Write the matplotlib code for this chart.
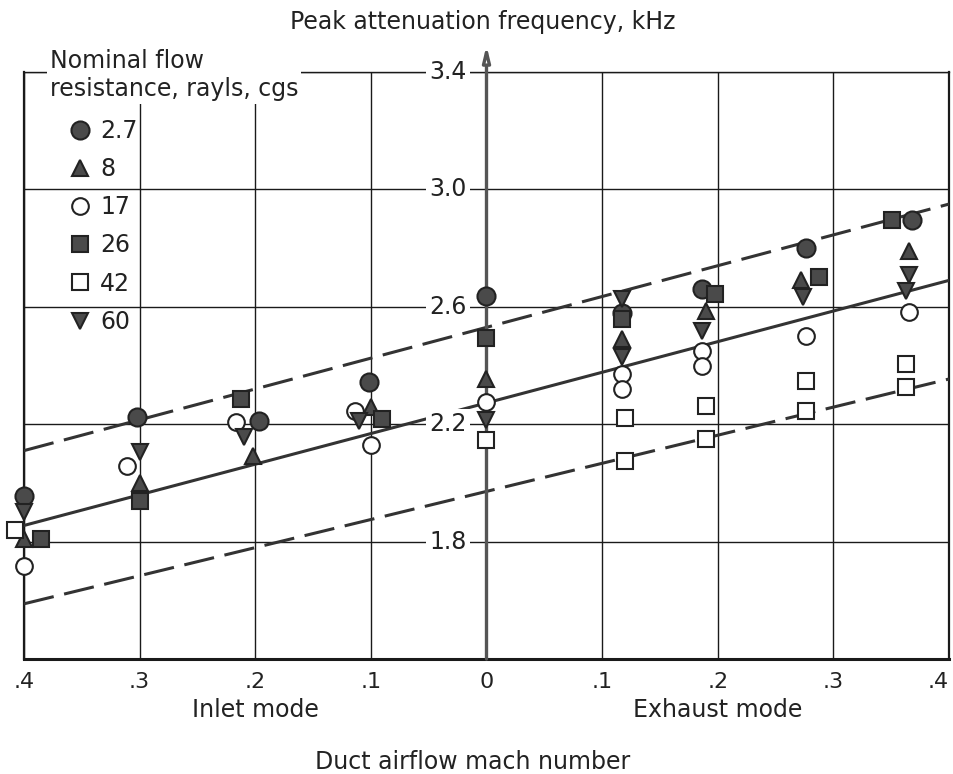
import matplotlib.pyplot as plt
from matplotlib.lines import Line2D

plt.rcParams['font.family'] = ['DejaVu Sans']

# duct airflow mach number: inlet mode negative, exhaust mode positive
r2_7_x = [-0.4, -0.302, -0.197, -0.102, 0.0, 0.117, 0.186, 0.276, 0.368]
r2_7_y = [1.957, 2.226, 2.21, 2.344, 2.638, 2.58, 2.66, 2.80, 2.896]

r8_x = [-0.4, -0.3, -0.202, -0.1, 0.0, 0.117, 0.19, 0.272, 0.365]
r8_y = [1.81, 2.00, 2.09, 2.26, 2.354, 2.49, 2.585, 2.69, 2.79]

r17_x = [-0.4, -0.311, -0.217, -0.114, -0.1, 0.0, 0.117, 0.117, 0.186, 0.186, 0.276, 0.365]
r17_y = [1.718, 2.056, 2.207, 2.245, 2.13, 2.275, 2.37, 2.32, 2.45, 2.40, 2.50, 2.583]

r26_x = [-0.385, -0.3, -0.212, -0.09, 0.0, 0.117, 0.198, 0.288, 0.351]
r26_y = [1.81, 1.94, 2.285, 2.217, 2.495, 2.56, 2.643, 2.70, 2.896]

r42_x = [-0.408, 0.0, 0.12, 0.12, 0.19, 0.19, 0.276, 0.276, 0.363, 0.363]
r42_y = [1.838, 2.145, 2.22, 2.075, 2.262, 2.149, 2.347, 2.245, 2.405, 2.327]

r60_x = [-0.4, -0.3, -0.21, -0.11, 0.0, 0.117, 0.117, 0.186, 0.274, 0.365, 0.363]
r60_y = [1.90, 2.104, 2.155, 2.21, 2.215, 2.625, 2.43, 2.518, 2.633, 2.709, 2.653]

# fitted trend lines, end points at mach -0.4 and +0.4
fit_x = [-0.4, 0.4]
upper_fit = [2.11, 2.95]
middle_fit = [1.855, 2.69]
lower_fit = [1.588, 2.354]

x_ticks = [-0.4, -0.3, -0.2, -0.1, 0.0, 0.1, 0.2, 0.3, 0.4]
x_labels = ['.4', '.3', '.2', '.1', '0', '.1', '.2', '.3', '.4']
y_ticks = [1.8, 2.2, 2.6, 3.0, 3.4]
y_labels = ['1.8', '2.2', '2.6', '3.0', '3.4']

ink = '#222222'
fill = '#4a4a4a'

fig = plt.figure(figsize=(9.54, 7.74), dpi=100)
ax = fig.add_axes([24 / 954, 115 / 774, 925 / 954, 587 / 774])
ax.set_xlim(-0.4, 0.4)
ax.set_ylim(1.4, 3.4)

ax.set_xticks(x_ticks)
ax.set_xticklabels(x_labels)
ax.set_yticks(y_ticks)
ax.tick_params(axis='x', length=0, pad=9, labelsize=16, colors=ink)
ax.tick_params(axis='y', left=False, labelleft=False)
# keep the last ".4" inside the figure edge
ax.get_xticklabels()[-1].set_horizontalalignment('right')
ax.grid(True, color='#1a1a1a', lw=1.0)
ax.set_axisbelow(True)
for side, w in [('left', 1.6), ('right', 1.6), ('bottom', 2.2), ('top', 1.0)]:
    ax.spines[side].set_linewidth(w)
    ax.spines[side].set_color('#1a1a1a')

# trend lines
ax.plot(fit_x, upper_fit, color='#333333', lw=2.2, ls=(0, (10, 3.5)), zorder=3)
ax.plot(fit_x, middle_fit, color='#333333', lw=2.2, zorder=3)
ax.plot(fit_x, lower_fit, color='#333333', lw=2.2, ls=(0, (10, 3.5)), zorder=3)

# vertical frequency axis through zero mach
ax.annotate('', xy=(0, 3.49), xytext=(0, 1.4), xycoords='data',
            arrowprops=dict(arrowstyle='-|>,head_length=0.9,head_width=0.22',
                            lw=2.4, color='#555555', fc='white',
                            shrinkA=0, shrinkB=0),
            annotation_clip=False, zorder=4)

for v, lab in zip(y_ticks, y_labels):
    ax.text(-0.017, v, lab, ha='right', va='center', fontsize=17, color=ink,
            bbox=dict(facecolor='white', edgecolor='none', pad=2.5),
            zorder=5, clip_on=False)

series = [
    (r2_7_x, r2_7_y, 'o', fill, 13, '2.7'),
    (r8_x, r8_y, '^', fill, 12, '8'),
    (r17_x, r17_y, 'o', 'white', 12, '17'),
    (r26_x, r26_y, 's', fill, 11, '26'),
    (r42_x, r42_y, 's', 'white', 11, '42'),
    (r60_x, r60_y, 'v', fill, 12, '60'),
]
handles = []
for xs, ys, m, fc, ms, lab in series:
    ax.plot(xs, ys, ls='none', marker=m, ms=ms, mfc=fc, mec='#222222',
            mew=1.5, zorder=6, clip_on=False)
    handles.append(Line2D([], [], ls='none', marker=m, ms=ms, mfc=fc,
                          mec='#222222', mew=1.5, label=lab))

leg = ax.legend(handles=handles, loc='upper left',
                bbox_to_anchor=((68 - 24) / 925, (659 - 119) / 587),
                frameon=False, fontsize=17, borderpad=0, borderaxespad=0,
                handlelength=1.0, handletextpad=0.36, labelspacing=0.6)
for t in leg.get_texts():
    t.set_color(ink)

ax.text((50 - 24) / 925, (659 - 75) / 587, 'Nominal flow\nresistance, rayls, cgs',
        transform=ax.transAxes, ha='left', va='center', fontsize=17,
        color=ink, linespacing=1.2,
        bbox=dict(facecolor='white', edgecolor='none', pad=2),
        zorder=7, clip_on=False)

ax.text(-0.2, -0.087, 'Inlet mode', transform=ax.get_xaxis_transform(),
        ha='center', va='center', fontsize=17, color=ink)
ax.text(0.2, -0.087, 'Exhaust mode', transform=ax.get_xaxis_transform(),
        ha='center', va='center', fontsize=17, color=ink)

fig.text(483 / 954, 1 - 22 / 774, 'Peak attenuation frequency, kHz',
         ha='center', va='center', fontsize=17, color=ink)
fig.text(473 / 954, 1 - 762 / 774, 'Duct airflow mach number',
         ha='center', va='center', fontsize=17, color=ink)

fig.savefig('out.png', dpi=100, facecolor='white')
